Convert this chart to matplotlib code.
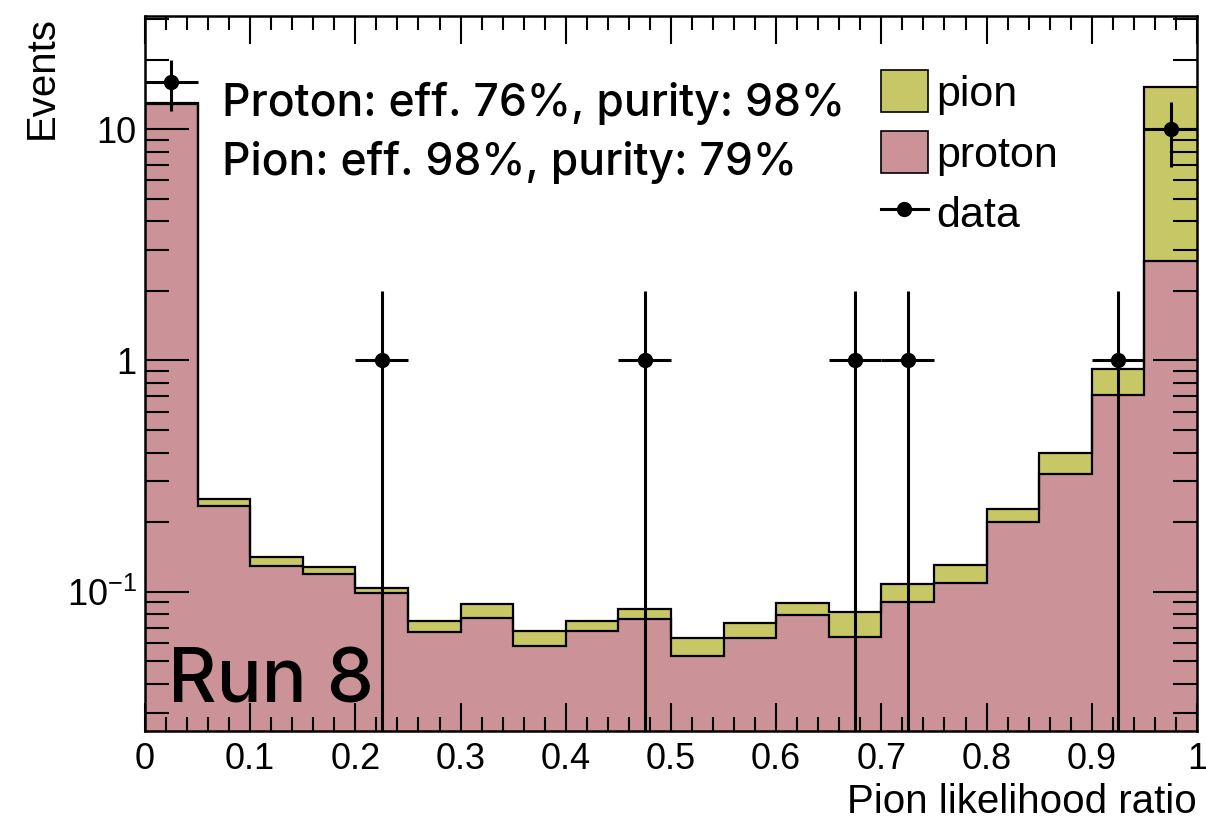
import numpy as np
import matplotlib
matplotlib.use('Agg')
import matplotlib.pyplot as plt
from matplotlib.patches import Patch
from matplotlib.lines import Line2D
from matplotlib.ticker import FixedLocator, NullFormatter

plt.rcParams['font.family'] = ['Liberation Sans', 'DejaVu Sans']
plt.rcParams['mathtext.fontset'] = 'custom'
plt.rcParams['mathtext.rm'] = 'Liberation Sans'
plt.rcParams['mathtext.it'] = 'Liberation Sans'

# ---- histogram content: 20 bins on [0, 1] ----
bin_edges = np.linspace(0, 1, 21)
proton = [12.9, 0.235, 0.129, 0.119, 0.099, 0.0667, 0.0767, 0.0584, 0.0676, 0.076,
          0.0527, 0.0629, 0.0793, 0.0635, 0.090, 0.1094, 0.2003, 0.323, 0.711, 2.70]
pion = [0.05, 0.017, 0.012, 0.0086, 0.005, 0.0079, 0.0118, 0.0092, 0.007, 0.0079,
        0.0102, 0.0105, 0.0098, 0.0184, 0.0177, 0.0211, 0.0277, 0.074, 0.21, 12.5]

# data points (bin centres and counts)
data_x = [0.025, 0.225, 0.475, 0.675, 0.725, 0.925, 0.975]
data_n = [16, 1, 1, 1, 1, 1, 10]

x_ticks = [0, 0.1, 0.2, 0.3, 0.4, 0.5, 0.6, 0.7, 0.8, 0.9, 1]
x_ticklabels = ['0', '0.1', '0.2', '0.3', '0.4', '0.5', '0.6', '0.7', '0.8', '0.9', '1']
y_ticks = [0.1, 1, 10]
y_ticklabels = [r'10$^{-1}$', '1', '10']

ymin, ymax = 0.025, 31.0

proton = np.array(proton)
total = proton + np.array(pion)
data_n = np.array(data_n, dtype=float)
err = np.sqrt(data_n)
err_lo = data_n - np.maximum(data_n - err, ymin * 0.5)

pion_color = '#C8C766'
proton_color = '#CB9398'

fig = plt.figure(figsize=(12.06, 8.21), dpi=100)
ax = fig.add_axes([0.1202, 0.1096, 0.8723, 0.8715])

# stacked histogram: pion on top of proton
ax.stairs(total, bin_edges, baseline=ymin * 0.1, fill=True, color=pion_color)
ax.stairs(proton, bin_edges, baseline=ymin * 0.1, fill=True, color=proton_color)
ax.stairs(total, bin_edges, baseline=None, color='black', lw=1.6)
ax.stairs(proton, bin_edges, baseline=None, color='black', lw=1.6)

ax.errorbar(data_x, data_n, xerr=0.025, yerr=[err_lo, err], fmt='o', color='black',
            ms=10, elinewidth=2.2, capsize=0, zorder=5)

ax.set_yscale('log')
ax.set_xlim(0, 1)
ax.set_ylim(ymin, ymax)

# ROOT-like ticks
ax.xaxis.set_major_locator(FixedLocator(x_ticks))
ax.set_xticklabels(x_ticklabels)
ax.xaxis.set_minor_locator(FixedLocator(np.arange(0, 1.001, 0.02)))
ax.yaxis.set_major_locator(FixedLocator(y_ticks))
ax.set_yticklabels(y_ticklabels)
minor_y = [m * 10.0 ** d for d in (-2, -1, 0, 1) for m in range(2, 10)]
ax.yaxis.set_minor_locator(FixedLocator(minor_y))
ax.yaxis.set_minor_formatter(NullFormatter())
ax.tick_params(which='both', direction='in', top=True, right=True, width=1.5,
               labelsize=26)
ax.tick_params(axis='x', which='major', length=20, pad=8)
ax.tick_params(axis='x', which='minor', length=10)
ax.tick_params(axis='y', which='major', length=32, pad=6)
ax.tick_params(axis='y', which='minor', length=17)
for s in ax.spines.values():
    s.set_linewidth(1.8)

ax.set_xlabel('Pion likelihood ratio', fontsize=29, loc='right')
ax.xaxis.set_label_coords(1.0, -0.072)
ax.set_ylabel('Events', fontsize=29, loc='top')
ax.yaxis.set_label_coords(-0.08, 1.0)

# legend
handles = [Patch(facecolor=pion_color, edgecolor='black', lw=1.2),
           Patch(facecolor=proton_color, edgecolor='black', lw=1.2),
           Line2D([], [], color='black', marker='o', ms=10, lw=2.2)]
ax.legend(handles, ['pion', 'proton', 'data'], loc='upper left',
          bbox_to_anchor=(0.683, 0.948), frameon=False, fontsize=31,
          handlelength=1.1, handleheight=1.14, labelspacing=0.37,
          handletextpad=0.18, borderaxespad=0)

# efficiency / purity summary
summary = ['Proton: eff. 76%, purity: 98%', 'Pion: eff. 98%, purity: 79%']
for i, line in enumerate(summary):
    ax.text(0.073, 0.86 - i * 0.083, line, transform=ax.transAxes, fontsize=32,
            family=['Inter', 'DejaVu Sans'], fontweight='medium', va='baseline')

ax.text(0.022, 0.04, 'Run 8', transform=ax.transAxes, fontsize=54,
        family=['Inter', 'DejaVu Sans'], fontweight='medium', va='baseline')

fig.savefig('out.png', dpi=100)
